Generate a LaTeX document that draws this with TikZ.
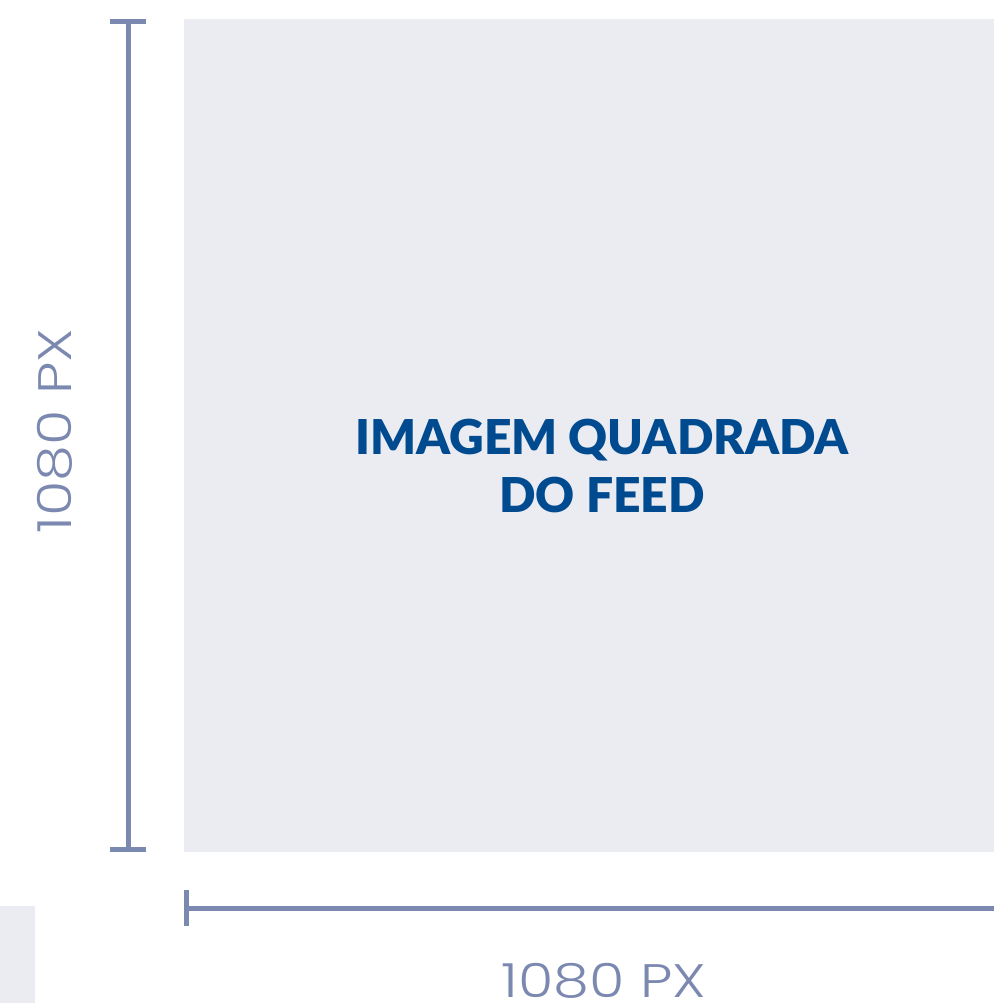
\documentclass[tikz,border=0pt]{standalone}
\usepackage{fontspec}
\setmainfont{Lato}
\newfontfamily\boldf{Lato Black}
\newfontfamily\thinf{Poppins Light}
\definecolor{panel}{HTML}{EBECF2}
\definecolor{dim}{HTML}{7B88B0}
\definecolor{title}{HTML}{004A8F}
\begin{document}
\begin{tikzpicture}[x=1pt,y=-1pt,
  dimline/.style={draw=dim,line width=5pt},
  titletext/.style={text=title,font=\boldf\fontsize{48}{58}\selectfont,align=center,inner sep=0pt},
  dimtext/.style={text=dim,font=\thinf\fontsize{47}{50}\selectfont,inner sep=0pt}]
\useasboundingbox (0,0) rectangle (994,1003);
\fill[panel] (184,19) rectangle (994,852);
\fill[panel] (0,906) rectangle (35,1003);
% vertical dimension
\coordinate (vt) at (128,21.5);
\coordinate (vb) at (128,849.5);
\draw[dimline] (vt) -- (vb);
\draw[dimline] (110,21.5) -- (146,21.5);
\draw[dimline] (110,849.5) -- (146,849.5);
% horizontal dimension
\coordinate (hl) at (186.5,908);
\coordinate (hr) at (994,908);
\draw[dimline] (hl) -- (hr);
\draw[dimline] (186.5,890) -- (186.5,926);
\node[titletext] (t) at (602,466) {IMAGEM QUADRADA\\DO FEED};
\node[dimtext,rotate=90] (vl) at (55,431) {\scalebox{1.22}[1]{1080 PX}};
\node[dimtext] (hlab) at (604,981) {\scalebox{1.22}[1]{1080 PX}};
\end{tikzpicture}
\end{document}
